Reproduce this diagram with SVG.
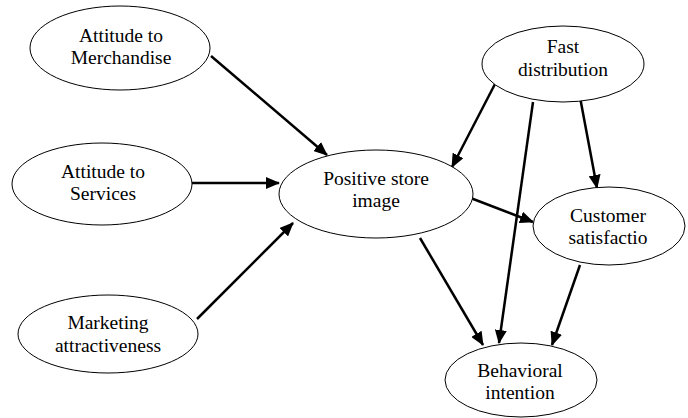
<svg xmlns="http://www.w3.org/2000/svg" width="688" height="418" viewBox="0 0 688 418">
<style>
.n{fill:#fff;stroke:#000;stroke-width:1}
.c{stroke:#000;stroke-width:2.5;fill:none;marker-end:url(#ah)}
</style>
<defs>
<marker id="ah" markerUnits="userSpaceOnUse" markerWidth="14" markerHeight="12" viewBox="0 0 14 12" refX="13" refY="6" orient="auto">
<path d="M0,0 L14,6 L0,12 Z" fill="#000"/>
</marker>
</defs>
<rect width="688" height="418" fill="#fff"/>
<g id="connectors">
<line class="c" x1="211" y1="56" x2="327" y2="155"/>
<line class="c" x1="192" y1="183" x2="279" y2="183"/>
<line class="c" x1="197" y1="319" x2="293" y2="223"/>
<line class="c" x1="495" y1="84" x2="452" y2="167"/>
<line class="c" x1="533" y1="102" x2="499" y2="343"/>
<line class="c" x1="580" y1="97" x2="597" y2="188"/>
<line class="c" x1="468" y1="197" x2="533" y2="222"/>
<line class="c" x1="420" y1="238" x2="483" y2="345"/>
<line class="c" x1="580" y1="265" x2="552" y2="345"/>
</g>
<g font-family="Liberation Serif, DejaVu Serif, serif" font-size="19.5" text-anchor="middle" fill="#000">
<g id="merchandise">
<ellipse class="n" cx="120" cy="48" rx="90" ry="42"/>
<text x="121" y="42">Attitude to</text>
<text x="121" y="64">Merchandise</text>
</g>
<g id="services">
<ellipse class="n" cx="102" cy="184" rx="90" ry="41"/>
<text x="103" y="178">Attitude to</text>
<text x="103" y="200">Services</text>
</g>
<g id="marketing">
<ellipse class="n" cx="108" cy="334" rx="90" ry="39"/>
<text x="108" y="329">Marketing</text>
<text x="108" y="352">attractiveness</text>
</g>
<g id="store-image">
<ellipse class="n" cx="376" cy="194" rx="97" ry="44"/>
<text x="376" y="185">Positive store</text>
<text x="376" y="207">image</text>
</g>
<g id="fast-distribution">
<ellipse class="n" cx="563" cy="64" rx="81" ry="38"/>
<text x="563" y="53">Fast</text>
<text x="563" y="76">distribution</text>
</g>
<g id="customer-satisfaction">
<ellipse class="n" cx="609" cy="226" rx="76" ry="39"/>
<text x="608" y="222">Customer</text>
<text x="608" y="244">satisfactio</text>
</g>
<g id="behavioral-intention">
<ellipse class="n" cx="521" cy="380" rx="76" ry="37"/>
<text x="520" y="377">Behavioral</text>
<text x="520" y="399">intention</text>
</g>
</g>
</svg>
